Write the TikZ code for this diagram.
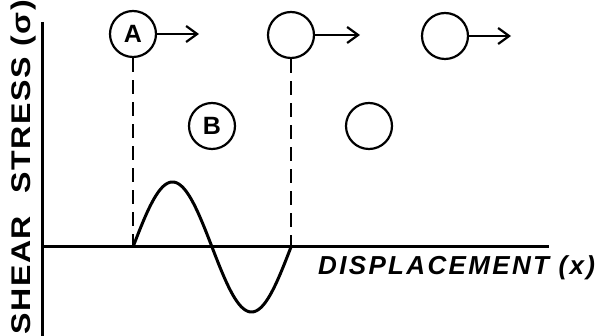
\documentclass[tikz,border=0pt]{standalone}
\usepackage{fontspec}
\setmainfont{Liberation Sans}
\usetikzlibrary{arrows.meta}
\begin{document}
\begin{tikzpicture}[x=1pt,y=-1pt,
  ball/.style={draw,circle,line width=2.2pt,minimum size=46pt,inner sep=0pt,font=\bfseries\fontsize{25}{25}\selectfont},
  axis/.style={line width=3pt},
  guide/.style={line width=2.5pt,dash pattern=on 14pt off 8pt},
  push/.style={line width=2.2pt,-{Straight Barb[length=11pt,width=16pt,line width=2.2pt]}},
  curve/.style={line width=3pt}]
\useasboundingbox (0,0) rectangle (605,336);
% axes
\coordinate (ytop) at (42,22);
\coordinate (ybot) at (42,336);
\coordinate (xl) at (42,247);
\coordinate (xr) at (549,247);
\draw[axis] (ytop) -- (ybot);
\draw[axis] (xl) -- (xr);
% balls
\node[ball] (a) at (133,34) {A};
\node[ball] (c2) at (291,35) {};
\node[ball] (c3) at (445,36) {};
\node[ball] (b) at (212,126) {B};
\node[ball] (c4) at (369,126) {};
% arrows
\coordinate (a1) at (199,34);
\coordinate (a2) at (360,35);
\coordinate (a3) at (511,36);
\draw[push] (a.east) -- (a1);
\draw[push] (c2.east) -- (a2);
\draw[push] (c3.east) -- (a3);
% dashed guides
\coordinate (d1) at (133,247);
\coordinate (d2) at (291,247);
\draw[guide] (a.south) -- (d1);
\draw[guide] (c2.south) -- (d2);
% sine
\draw[curve] plot[domain=0:360,samples=120,smooth] ({133+\x/360*158},{247-65*sin(\x)});
% labels
\node[rotate=90,anchor=west,inner sep=0pt,font=\bfseries\fontsize{27}{27}\selectfont\addfontfeature{LetterSpace=5}] (ylab) at (24,335) {\scalebox{1.19}[1]{SHEAR\hspace{0.7em}STRESS (σ)}};
\node[anchor=west,inner sep=0pt,font=\bfseries\itshape\fontsize{26}{26}\selectfont\addfontfeature{LetterSpace=9}] (xlab) at (318,268) {DISPLACEMENT (x)};
\end{tikzpicture}
\end{document}
